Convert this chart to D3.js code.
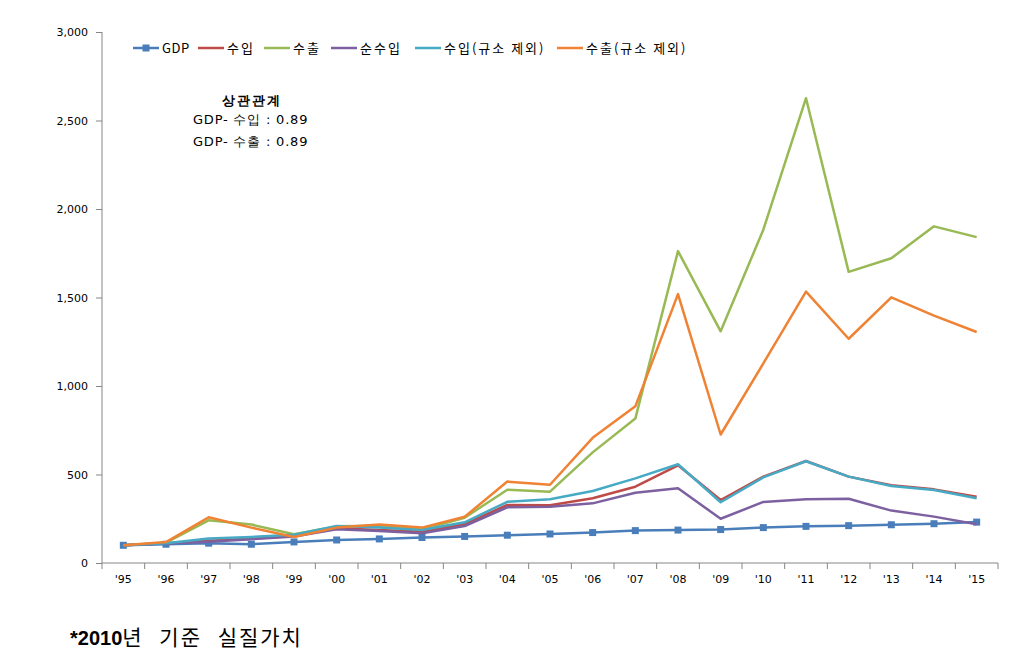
<!DOCTYPE html>
<html>
<head>
<meta charset="utf-8">
<script src="https://cdn.jsdelivr.net/npm/d3@7"></script>
<style>
  body { margin: 0; background: #fff; }
  svg text { font-family: "DejaVu Sans", Verdana, sans-serif; }
</style>
</head>
<body>
<div id="chart"></div>
<script>
// categories and series (index, 1995 = 100)
const years = ["'95","'96","'97","'98","'99","'00","'01","'02","'03","'04","'05","'06","'07","'08","'09","'10","'11","'12","'13","'14","'15"];
const gdp      = [100,106,112,106,119,130,136,144,150,157,164,172,183,186,189,200,207,211,216,222,231];
const imports  = [100,111,126,137,152,196,186,177,220,328,326,366,431,552,356,488,576,488,439,416,375];
const exports  = [100,115,241,217,162,207,211,189,256,414,403,625,816,1762,1309,1883,2626,1645,1722,1902,1841];
const netImp   = [100,110,120,134,149,190,181,168,209,315,318,337,397,422,250,345,360,363,296,262,219];
const importsX = [100,111,139,147,160,209,200,186,230,346,360,407,478,558,343,484,575,488,435,412,366];
const exportsX = [100,118,258,200,147,200,218,200,261,460,442,707,885,1519,726,1128,1533,1267,1501,1398,1305];
const seriesNames = ["GDP","수입","수출","순수입","수입(규소 제외)","수출(규소 제외)"];
const seriesColors = ["#4A7EBB","#BE4B48","#98B954","#7D60A0","#46AAC5","#F08233"];
const yTicks = [0,500,1000,1500,2000,2500,3000];

const W = 1023, H = 657;
const svg = d3.select("#chart").append("svg").attr("width", W).attr("height", H);

const x = d3.scaleBand().domain(years).range([102, 998]);
const y = d3.scaleLinear().domain([0, 3000]).range([563, 32]);

// y axis
const yAxis = svg.append("g").attr("transform", "translate(102,0)")
  .call(d3.axisLeft(y).tickValues(yTicks).tickSize(6).tickPadding(8).tickFormat(d3.format(",")));
yAxis.select(".domain").attr("stroke", "#868686").attr("d", "M0,32V563");
yAxis.selectAll(".tick line").attr("stroke", "#868686");
yAxis.selectAll(".tick text").attr("fill", "#000").style("font-size", "11px");

// x axis, ticks between categories
const xAxis = svg.append("g").attr("transform", "translate(0,563)");
xAxis.append("line").attr("x1", 102).attr("x2", 998).attr("stroke", "#868686");
const bounds = years.map(d => x(d)).concat([x(years[years.length - 1]) + x.bandwidth()]);
xAxis.selectAll("line.tk").data(bounds).join("line").attr("class", "tk")
  .attr("x1", d => d).attr("x2", d => d).attr("y1", 0).attr("y2", 6).attr("stroke", "#868686");
xAxis.selectAll("text").data(years).join("text")
  .attr("x", d => x(d) + x.bandwidth() / 2).attr("y", 20)
  .attr("text-anchor", "middle").style("font-size", "11px").text(d => d);

// lines
const allSeries = [gdp, imports, exports, netImp, importsX, exportsX];
const line = d3.line().x((d, i) => x(years[i]) + x.bandwidth() / 2).y(d => y(d));
allSeries.forEach((s, k) => {
  svg.append("path").datum(s)
    .attr("d", line).attr("fill", "none")
    .attr("stroke", seriesColors[k]).attr("stroke-width", 2.5)
    .attr("stroke-linejoin", "round");
  if (k === 0) {
    svg.selectAll("rect.gdp").data(s).join("rect").attr("class", "gdp")
      .attr("x", (d, i) => x(years[i]) + x.bandwidth() / 2 - 3.5)
      .attr("y", d => y(d) - 3.5).attr("width", 7).attr("height", 7)
      .attr("fill", seriesColors[0]);
  }
});

// legend
const legendX = [133, 198, 264, 331, 415, 557];
const legend = svg.append("g");
seriesNames.forEach((n, k) => {
  const lx = legendX[k];
  legend.append("line").attr("x1", lx).attr("x2", lx + 26).attr("y1", 48).attr("y2", 48)
    .attr("stroke", seriesColors[k]).attr("stroke-width", 2.5);
  if (k === 0) {
    legend.append("rect").attr("x", lx + 9.5).attr("y", 44.5).attr("width", 7).attr("height", 7)
      .attr("fill", seriesColors[0]);
  }
  legend.append("text").attr("x", lx + 29).attr("y", 53).style("font-size", "13px")
    .style("letter-spacing", k === 0 ? "0.5px" : "2px")
    .style("font-family", "'Noto Sans CJK KR', 'DejaVu Sans', sans-serif").text(n);
});

// correlation note
const note = svg.append("g").style("font-family", "'Noto Sans CJK KR', 'DejaVu Sans', sans-serif");
note.append("text").attr("x", 252).attr("y", 105).attr("text-anchor", "middle")
  .style("font-size", "13px").style("font-weight", "bold").style("letter-spacing", "2px").text("상관관계");
note.append("text").attr("x", 193).attr("y", 124).style("font-size", "13px")
  .style("letter-spacing", "0.8px").text("GDP- 수입 : 0.89");
note.append("text").attr("x", 193).attr("y", 146).style("font-size", "13px")
  .style("letter-spacing", "0.8px").text("GDP- 수출 : 0.89");

// footnote
const foot = svg.append("text").attr("x", 70).attr("y", 645).style("font-size", "21px")
  .style("font-family", "'Noto Sans CJK KR', sans-serif");
foot.append("tspan").style("font-weight", "bold").style("font-size", "20px")
  .style("font-family", "'Liberation Sans', Arial, sans-serif").text("*2010");
foot.append("tspan").style("letter-spacing", "2px").style("word-spacing", "9px").text("년 기준 실질가치");
</script>
</body>
</html>
